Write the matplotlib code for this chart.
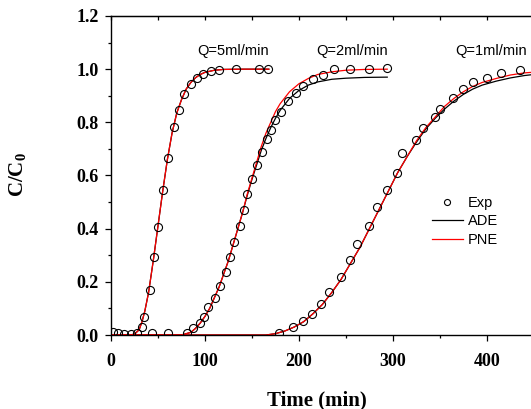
import matplotlib
matplotlib.use("Agg")
import matplotlib.pyplot as plt
from matplotlib.ticker import MultipleLocator

plt.rcParams['mathtext.fontset'] = 'custom'
plt.rcParams['mathtext.rm'] = 'Liberation Serif:bold'
plt.rcParams['mathtext.bf'] = 'Liberation Serif:bold'

# experimental points (time in min, C/C0)
exp5_t = [2.5, 7.8, 14, 21, 28, 32.6, 35.5, 41.5, 46, 50.3, 55.6, 61, 67, 72, 78,
          85, 91, 97.5, 106, 115, 133, 157, 167]
exp5_c = [0.012, 0.006, 0.004, 0.004, 0.006, 0.031, 0.069, 0.169, 0.293, 0.407, 0.545,
          0.667, 0.781, 0.848, 0.905, 0.944, 0.968, 0.981, 0.992, 0.996, 1.0, 1.0, 1.0]

exp2_t = [43.3, 61, 80.5, 87, 94.7, 99, 103.5, 110.6, 116, 122.3, 126.6, 131.2, 137.2,
          141.5, 145, 149.7, 155, 160.3, 165.6, 170, 175, 180.5, 188, 196.8, 204.6,
          215, 226, 237, 254, 274.5, 294]
exp2_c = [0.006, 0.006, 0.009, 0.028, 0.046, 0.069, 0.107, 0.140, 0.186, 0.236, 0.294,
          0.349, 0.41, 0.47, 0.53, 0.586, 0.639, 0.689, 0.737, 0.771, 0.808, 0.839,
          0.881, 0.911, 0.936, 0.962, 0.977, 0.999, 1.0, 1.0, 1.003]

exp1_t = [178.7, 194, 204, 213.5, 224, 232, 244.3, 254, 261.4, 274.5, 283.3, 294, 304,
          310, 324.5, 331.6, 344.7, 350, 364, 375, 384.8, 399.7, 415, 435]
exp1_c = [0.006, 0.029, 0.054, 0.079, 0.115, 0.163, 0.217, 0.282, 0.342, 0.41, 0.482,
          0.545, 0.608, 0.685, 0.732, 0.779, 0.82, 0.852, 0.892, 0.925, 0.95, 0.965,
          0.986, 0.996]

# model curves
fit5_t = [0, 20, 25, 30, 33, 36, 40, 45, 50, 55, 60, 65, 70, 75, 80, 85, 90, 95, 100,
          110, 120, 140, 168]
fit5_c = [0, 0, 0.003, 0.02, 0.05, 0.09, 0.16, 0.28, 0.41, 0.54, 0.66, 0.76, 0.835,
          0.885, 0.925, 0.95, 0.968, 0.98, 0.988, 0.996, 0.999, 1.0, 1.0]

fit2_t = [0, 75, 85, 90, 95, 100, 105, 110, 115, 120, 125, 130, 135, 140, 145, 150,
          155, 160, 165, 170, 175, 180, 190, 200, 210, 220, 235, 250, 270, 294]
pne2_c = [0, 0, 0.01, 0.025, 0.045, 0.07, 0.10, 0.14, 0.18, 0.23, 0.28, 0.34, 0.40,
          0.46, 0.53, 0.59, 0.65, 0.71, 0.76, 0.80, 0.84, 0.87, 0.915, 0.945, 0.965,
          0.98, 0.99, 0.996, 0.999, 1.0]
ade2_c = [0, 0, 0.01, 0.025, 0.045, 0.07, 0.10, 0.14, 0.18, 0.23, 0.28, 0.34, 0.40,
          0.46, 0.525, 0.585, 0.64, 0.695, 0.74, 0.78, 0.815, 0.845, 0.89, 0.92, 0.94,
          0.952, 0.962, 0.966, 0.969, 0.97]

fit1_t = [0, 165, 175, 185, 195, 205, 215, 225, 235, 245, 255, 265, 275, 285, 295, 305,
          315, 325, 335, 345, 355, 365, 375, 385, 395, 410, 425, 440, 455]
pne1_c = [0, 0, 0.005, 0.015, 0.03, 0.05, 0.08, 0.115, 0.16, 0.21, 0.27, 0.33, 0.40,
          0.47, 0.54, 0.61, 0.67, 0.73, 0.78, 0.82, 0.86, 0.89, 0.915, 0.935, 0.95,
          0.965, 0.978, 0.986, 0.99]
ade1_c = [0, 0, 0.005, 0.015, 0.03, 0.05, 0.08, 0.115, 0.16, 0.21, 0.27, 0.33, 0.40,
          0.47, 0.54, 0.61, 0.67, 0.725, 0.775, 0.815, 0.85, 0.88, 0.905, 0.925, 0.94,
          0.955, 0.967, 0.976, 0.982]

flow_labels = ["Q=5ml/min", "Q=2ml/min", "Q=1ml/min"]
label_x = [130, 257, 405]

W, H = 531, 409
fig = plt.figure(figsize=(W / 100, H / 100), dpi=100)
ax = fig.add_axes([111 / W, 74 / H, 420 / W, 319 / H])

circ = dict(ls='none', marker='o', ms=5.8, mfc='none', mec='black', mew=0.8)

ax.plot(fit5_t, fit5_c, color='black', lw=0.9)
ax.plot(fit2_t, ade2_c, color='black', lw=0.9)
ax.plot(fit1_t, ade1_c, color='black', lw=0.9, label='ADE')
ax.plot(fit5_t, fit5_c, color='red', lw=0.9)
ax.plot(fit2_t, pne2_c, color='red', lw=0.9)
ax.plot(fit1_t, pne1_c, color='red', lw=0.9, label='PNE')
ax.plot(exp5_t, exp5_c, **circ)
ax.plot(exp2_t, exp2_c, **circ)
ax.plot(exp1_t, exp1_c, label='Exp', **circ)

for lab, x in zip(flow_labels, label_x):
    ax.text(x, 1.07, lab, ha='center', va='center', fontsize=10.5,
            family='Liberation Sans')

ax.set_xlim(0, 447)
ax.set_ylim(0, 1.2)
ax.xaxis.set_major_locator(MultipleLocator(100))
ax.xaxis.set_minor_locator(MultipleLocator(50))
ax.yaxis.set_major_locator(MultipleLocator(0.2))
ax.yaxis.set_minor_locator(MultipleLocator(0.1))
ax.yaxis.set_major_formatter(plt.FormatStrFormatter('%.1f'))
ax.spines['right'].set_visible(False)
for s in ['left', 'bottom', 'top']:
    ax.spines[s].set_linewidth(1.0)

ax.tick_params(axis='both', which='major', direction='out', length=4, width=0.9)
ax.tick_params(axis='both', which='minor', direction='out', length=2.5, width=0.9)
ax.tick_params(axis='x', which='major', pad=9)
ax.tick_params(axis='y', which='major', pad=5)
for t in ax.get_xticklabels() + ax.get_yticklabels():
    t.set_family('Liberation Serif')
    t.set_weight('bold')
    t.set_fontsize(13)

top = ax.secondary_xaxis('top')
top.xaxis.set_major_locator(MultipleLocator(100))
top.xaxis.set_minor_locator(MultipleLocator(50))
top.tick_params(which='both', direction='in', length=3, width=0.9, labeltop=False)

fig.text(317 / W, 1 - 390 / H, "Time (min)", ha='center', va='top', fontsize=15,
         family='Liberation Serif', weight='bold')
fig.text(18 / W, 1 - 175 / H, r"C/C$_{\mathbf{0}}$", ha='center', va='center',
         rotation=90, fontsize=15, family='Liberation Serif', weight='bold')

h, l = ax.get_legend_handles_labels()
order = [l.index('Exp'), l.index('ADE'), l.index('PNE')]
ax.legend([h[i] for i in order], [l[i] for i in order], loc='upper left',
          bbox_to_anchor=(432 / W, 1 - 196 / H), bbox_transform=fig.transFigure,
          frameon=False, borderpad=0, borderaxespad=0, handlelength=2.1,
          handletextpad=0.35, labelspacing=0.3, markerscale=0.75,
          prop={'family': 'Liberation Sans', 'size': 10.5})

fig.savefig("out.png", dpi=100)
